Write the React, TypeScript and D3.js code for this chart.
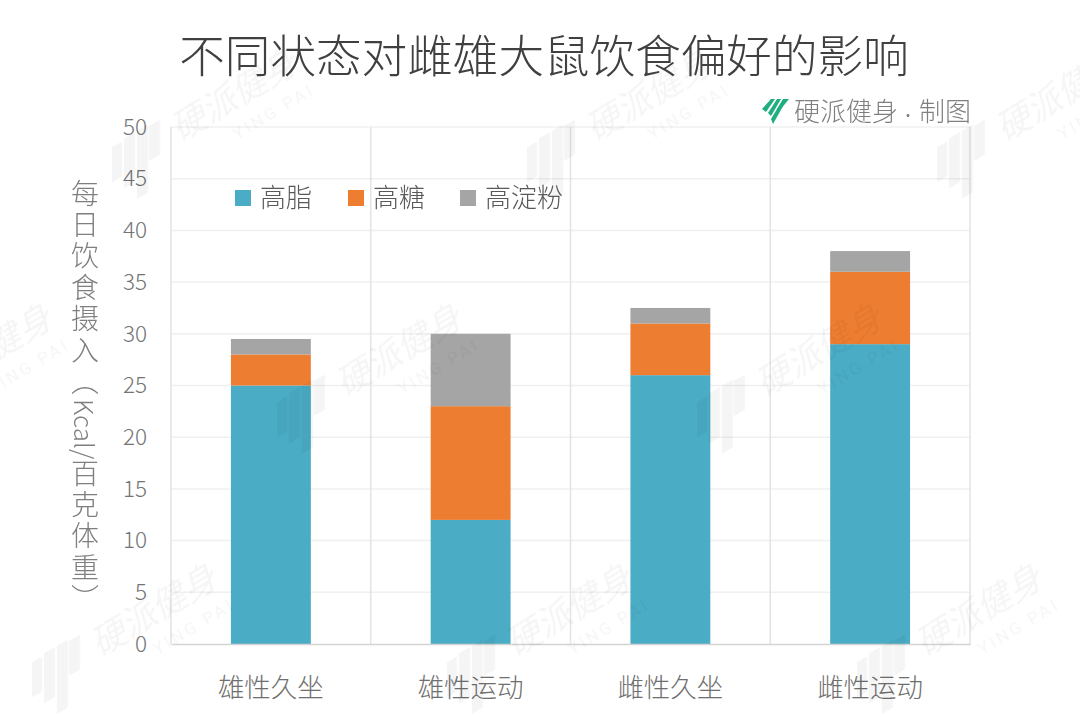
// stacked bar chart: diet preference of rats, drawn with d3 scales + axes
import React, { useRef, useEffect } from 'react';
import * as d3 from 'd3';

const categories = ['雄性久坐', '雄性运动', '雌性久坐', '雌性运动'];
const seriesNames = ['高脂', '高糖', '高淀粉'];
const seriesColors = ['#4bacc6', '#ed7d31', '#a5a5a5'];
const highFat = [25, 12, 26, 29];
const highSugar = [3, 11, 5, 7];
const highStarch = [1.5, 7, 1.5, 2];
const yTicks = [0, 5, 10, 15, 20, 25, 30, 35, 40, 45, 50];

const title = '不同状态对雌雄大鼠饮食偏好的影响';

const width = 1080;
const height = 717;
const margin = { top: 127, right: 110, bottom: 73, left: 171 };
const font = '"Noto Sans CJK SC", "Noto Sans", sans-serif';
const textColor = '#7f7f7f';

// where the faint watermark stamps sit (logo anchor)
const stamps = [
  [135, 165], [550, 165], [960, 165],
  [-110, 420], [300, 420], [720, 420],
  [55, 680], [470, 680], [880, 680],
];

function Watermark({ x, y }: { x: number; y: number }) {
  return (
    <g transform={`translate(${x},${y})`} opacity={0.04} fill="#000">
      <g transform="skewY(-30)">
        <rect x={-23} y={-31} width={10} height={35} />
        <rect x={-11} y={-33} width={11} height={50} />
        <rect x={2} y={-33} width={11} height={68} />
        <rect x={14} y={-31} width={11} height={35} />
      </g>
      <g transform="translate(45,-23) rotate(-31)">
        <text x={0} y={0} fontFamily={font} fontSize={35} fontStyle="italic" fontWeight={400}>硬派健身</text>
        <text x={50} y={28} fontFamily="Roboto, sans-serif" fontSize={17} letterSpacing={3}>YING PAI</text>
      </g>
    </g>
  );
}

export default function App() {
  const ref = useRef<SVGGElement>(null);

  const x = d3.scaleBand().domain(categories).range([margin.left, width - margin.right]);
  const y = d3.scaleLinear().domain([0, 50]).range([height - margin.bottom, margin.top]);
  const barWidth = x.bandwidth() * 0.4;

  const rows = categories.map((c, i) => ({
    category: c,
    [seriesNames[0]]: highFat[i],
    [seriesNames[1]]: highSugar[i],
    [seriesNames[2]]: highStarch[i],
  }));
  const stacked = d3.stack<any>().keys(seriesNames)(rows);

  useEffect(() => {
    const g = d3.select(ref.current);
    g.selectAll('*').remove();

    // horizontal grid
    g.append('g')
      .selectAll('line')
      .data(yTicks.slice(1))
      .enter()
      .append('line')
      .attr('x1', margin.left)
      .attr('x2', width - margin.right)
      .attr('y1', d => y(d))
      .attr('y2', d => y(d))
      .style('stroke', '#f0f0f0')
      .style('stroke-width', 1.5);

    // band separators
    const edges = [...categories.map(c => x(c) as number), width - margin.right];
    g.append('g')
      .selectAll('line')
      .data(edges)
      .enter()
      .append('line')
      .attr('x1', d => d)
      .attr('x2', d => d)
      .attr('y1', margin.top)
      .attr('y2', height - margin.bottom)
      .style('stroke', '#e3e3e3')
      .style('stroke-width', 1.5);

    // bars
    stacked.forEach((layer, i) => {
      g.append('g')
        .selectAll('rect')
        .data(layer)
        .enter()
        .append('rect')
        .attr('x', (d: any) => (x(d.data.category) as number) + (x.bandwidth() - barWidth) / 2)
        .attr('width', barWidth)
        .attr('y', (d: any) => y(d[1]))
        .attr('height', (d: any) => y(d[0]) - y(d[1]))
        .style('fill', seriesColors[i]);
    });

    // y axis
    const yAxis = g.append('g')
      .attr('transform', `translate(${margin.left},0)`)
      .call(d3.axisLeft(y).tickValues(yTicks).tickSize(0).tickPadding(24));
    yAxis.select('.domain').remove();
    yAxis.selectAll('text')
      .style('font-family', font)
      .style('font-weight', 300)
      .style('font-size', '22.5px')
      .style('fill', '#737373');

    // x axis
    const xAxis = g.append('g')
      .attr('transform', `translate(0,${height - margin.bottom})`)
      .call(d3.axisBottom(x).tickSize(0).tickPadding(34));
    xAxis.select('.domain').style('stroke', '#d4d4d4').style('stroke-width', 1.5);
    xAxis.selectAll('text')
      .style('font-family', font)
      .style('font-weight', 300)
      .style('font-size', '26.5px')
      .style('fill', '#6f6f6f');
  }, []);

  const legendStep = [235, 348, 460];

  return (
    <svg
      width={width}
      height={height}
      style={{ position: 'absolute', left: 0, top: 0, background: '#fff' }}
    >
      <g ref={ref} />
      {stamps.map(([sx, sy], i) => <Watermark key={i} x={sx} y={sy} />)}

      <text x={544} y={73} textAnchor="middle" fontFamily={font} fontWeight={300} fontSize={45.6} fill="#404040">
        {title}
      </text>

      <g transform="translate(762,99)" fill="#1fae7f">
        <path d="M0,10 L9,0 L13,0 L4,13 Z" />
        <path d="M6,14 L15,0 L19,0 L9,17 Z" />
        <path d="M9,20 L21,0 L25,0 L11,25 Z" />
        <path d="M15,10 L22,0 L27,0 L18,11 Z" />
      </g>
      <text x={794} y={120.5} fontFamily={font} fontWeight={300} fontSize={26} fill={textColor}>
        硬派健身<tspan dx={2} fontSize={16}>·</tspan><tspan dx={3}>制图</tspan>
      </text>

      {seriesNames.map((name, i) => (
        <g key={name}>
          <rect x={legendStep[i]} y={190} width={16} height={16} fill={seriesColors[i]} />
          <text x={legendStep[i] + 25} y={206.5} fontFamily={font} fontWeight={300} fontSize={26} fill="#595959">
            {name}
          </text>
        </g>
      ))}

      <text
        x={85}
        y={397.5}
        textAnchor="middle"
        fontFamily={font}
        fontWeight={300}
        fontSize={28}
        letterSpacing={3.4}
        fill={textColor}
        style={{ writingMode: 'vertical-rl' }}
      >
        每日饮食摄入（<tspan fontSize={26} letterSpacing={0}>Kcal/</tspan>百克体重）
      </text>
    </svg>
  );
}
